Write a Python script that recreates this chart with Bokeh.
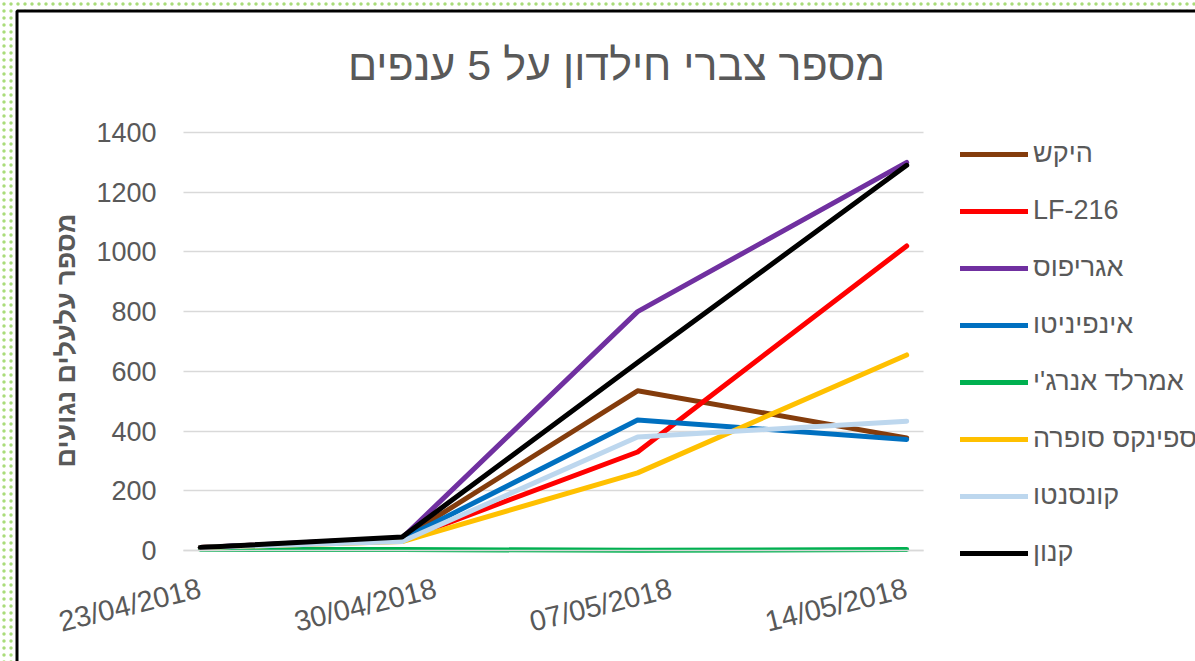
import math
import numpy as np
from bokeh.plotting import figure
from bokeh.models import (Range1d, FixedTicker, DatetimeTickFormatter, Legend,
                          LegendItem, Label, Grid, BoxAnnotation)
from bokeh.embed import file_html
from bokeh.resources import INLINE

# ---------------- data ----------------
title_text = "מספר צברי חילדון על 5 ענפים"
y_label = "מספר עלעלים נגועים"
dates = ["2018-04-23", "2018-04-29", "2018-05-06", "2018-05-14"]
tick_dates = ["2018-04-23", "2018-04-30", "2018-05-07", "2018-05-14"]
y_ticks = [0, 200, 400, 600, 800, 1000, 1200, 1400]

series_names = ["היקש", "LF-216", "אגריפוס", "אינפיניטו", "אמרלד אנרג'י",
                "ספינקס סופרה", "קונסנטו", "קנון"]
hikash = [10, 40, 535, 377]
lf216 = [10, 35, 330, 1020]
agripos = [10, 42, 800, 1300]
infinito = [10, 38, 437, 372]
emerald = [4, 3, 1, 3]
sphinx = [10, 30, 260, 655]
konsento = [10, 30, 380, 433]
kanon = [10, 45, 630, 1290]
series_values = [hikash, lf216, agripos, infinito, emerald, sphinx, konsento, kanon]
series_colors = ["#843c0c", "#ff0000", "#7030a0", "#0070c0", "#00b050",
                 "#ffc000", "#bdd7ee", "#000000"]

FONT = "Liberation Sans"
TXT = "#595959"
GRID = "#d9d9d9"

x = np.array(dates, dtype="datetime64[ms]")
x_ms = x.astype("int64")
tick_ms = np.array(tick_dates, dtype="datetime64[ms]").astype("int64").tolist()
DAY = 24 * 3600 * 1000

# layout (canvas px); the frame fills the whole canvas
W, H = 1195, 661
PL, PR = 183, 923        # plot-area left / right
PT, PB = 132, 550        # plot-area top (max tick) / bottom (0)
Y_MAX = y_ticks[-1]

px_per_day = (PR - PL) / ((x_ms[-1] - x_ms[0]) / DAY + 1)
x_plot_start = float(x_ms[0]) - DAY / 2
x_plot_end = float(x_ms[-1]) + DAY / 2
x_start = x_plot_start - PL / px_per_day * DAY
x_end = x_start + W / px_per_day * DAY
ppu = (PB - PT) / Y_MAX
y_start = -(H - PB) / ppu
y_end = Y_MAX + PT / ppu

p = figure(width=W, height=H, x_axis_type="datetime", output_backend="svg",
           toolbar_location=None,
           x_range=Range1d(x_start, x_end), y_range=Range1d(y_start, y_end),
           min_border_left=0, min_border_right=0,
           min_border_top=0, min_border_bottom=0)
p.outline_line_color = None
p.background_fill_color = "white"
p.border_fill_color = "white"

# grid lines limited to the plot area
if "cross_bounds" in Grid.properties():
    p.ygrid.ticker = FixedTicker(ticks=y_ticks)
    p.ygrid.grid_line_color = GRID
    p.ygrid.grid_line_width = 1.5
    p.ygrid.cross_bounds = (x_plot_start, x_plot_end)
else:
    p.ygrid.grid_line_color = None
    p.segment(x0=[x_plot_start] * len(y_ticks), y0=y_ticks,
              x1=[x_plot_end] * len(y_ticks), y1=y_ticks,
              line_color=GRID, line_width=1.5, level="underlay")
p.xgrid.grid_line_color = None

renderers = []
for name, vals, col in zip(series_names, series_values, series_colors):
    r = p.line(x, vals, line_width=5, line_color=col,
               line_cap="round", line_join="round")
    renderers.append(r)

# x axis drawn at value 0
fmt = "%d/%m/%Y"
p.xaxis.fixed_location = 0
p.xaxis.bounds = (x_plot_start, x_plot_end)
p.xaxis.ticker = FixedTicker(ticks=tick_ms)
p.xaxis.formatter = DatetimeTickFormatter(
    days=fmt, months=fmt, years=fmt, hours=fmt, minutes=fmt, seconds=fmt,
    milliseconds=fmt, minsec=fmt, hourmin=fmt)
p.xaxis.major_label_orientation = 0.24
p.xaxis.axis_line_color = GRID
p.xaxis.axis_line_width = 1.5
p.xaxis.major_tick_line_color = None
p.xaxis.minor_tick_line_color = None
p.xaxis.major_label_standoff = 31
p.xaxis.major_label_text_font = FONT
p.xaxis.major_label_text_font_size = "29px"
p.xaxis.major_label_text_color = TXT

# y axis drawn at the left edge of the plot area
p.yaxis.fixed_location = x_plot_start
p.yaxis.bounds = (0, Y_MAX)
p.yaxis.ticker = FixedTicker(ticks=y_ticks)
p.yaxis.axis_line_color = None
p.yaxis.major_tick_line_color = None
p.yaxis.minor_tick_line_color = None
p.yaxis.major_label_standoff = 21
p.yaxis.major_label_text_font = FONT
p.yaxis.major_label_text_font_size = "27px"
p.yaxis.major_label_text_color = TXT

# y-axis title (rotated text placed beside the tick labels)
p.add_layout(Label(x=65, y=H - 340, x_units="screen", y_units="screen",
                   text=y_label, angle=math.pi / 2, text_align="center",
                   text_baseline="middle", text_font=FONT,
                   text_font_size="27px", text_font_style="bold",
                   text_color=TXT))

# title
p.add_layout(Label(x=616, y=H - 64, x_units="screen", y_units="screen",
                   text=title_text, text_align="center", text_baseline="middle",
                   text_font=FONT, text_font_size="43px", text_color=TXT))

# legend
items = [LegendItem(label=n, renderers=[r]) for n, r in zip(series_names, renderers)]
legend = Legend(items=items, location=(960, 93), orientation="vertical",
                label_text_font=FONT, label_text_font_size="27px",
                label_text_color=TXT, glyph_width=68, glyph_height=30,
                label_height=30, spacing=26, padding=0, margin=0,
                label_standoff=5, border_line_color=None,
                background_fill_alpha=0)
p.add_layout(legend)

# dotted surround and the chart-area border
dots = dict(fill_alpha=0, line_color=None, hatch_pattern="dot",
            hatch_color="#a9dc7a", hatch_alpha=1.0, hatch_scale=7,
            hatch_weight=2.5,
            left_units="screen", right_units="screen",
            top_units="screen", bottom_units="screen")
p.add_layout(BoxAnnotation(left=0, right=15, top=H, bottom=0, **dots))
p.add_layout(BoxAnnotation(left=15, right=W, top=H, bottom=H - 9, **dots))
p.add_layout(BoxAnnotation(left=16.5, right=W + 50, top=H - 10.5, bottom=-50,
                           left_units="screen", right_units="screen",
                           top_units="screen", bottom_units="screen",
                           fill_alpha=0, line_color="black", line_alpha=1.0,
                           line_width=3))

open("out.html", "w").write(file_html(p, INLINE))
